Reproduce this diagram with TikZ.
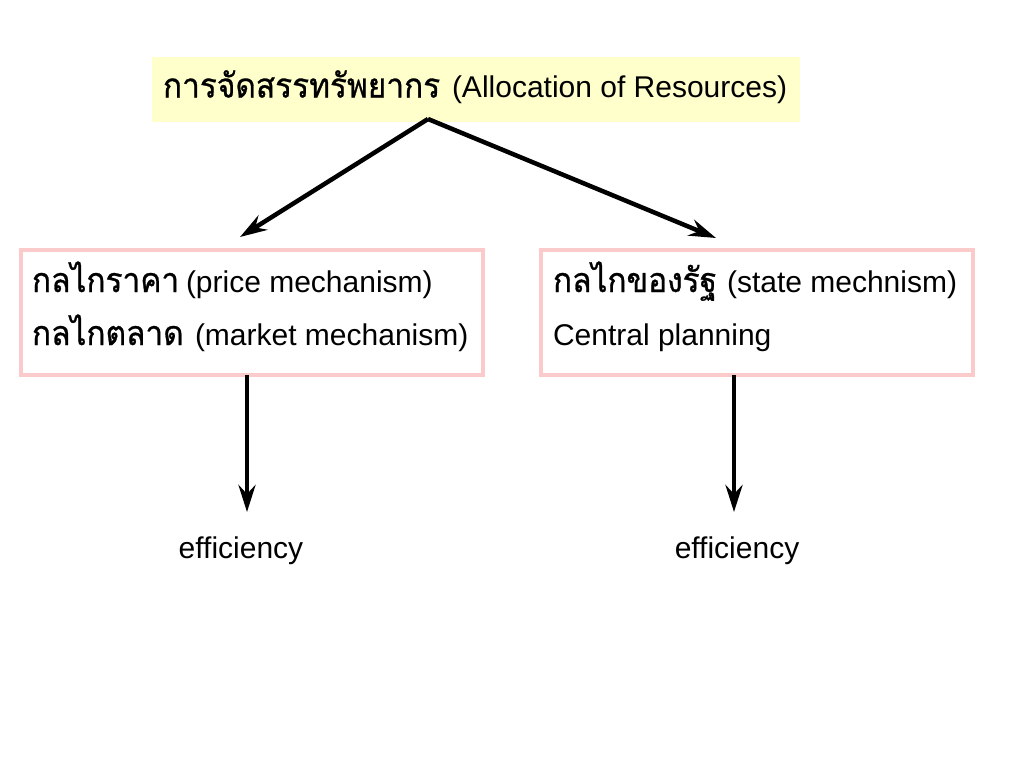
\documentclass[tikz,border=0pt]{standalone}
\usepackage{fontspec}
\setmainfont{Liberation Sans}
\newfontfamily\thaifont[Script=Thai,FakeStretch=0.93,FakeBold=0.8]{Loma}
\usetikzlibrary{arrows.meta}
\definecolor{topfill}{HTML}{FFFFCC}
\definecolor{pinkline}{HTML}{FBCACA}
\begin{document}
\begin{tikzpicture}[x=1pt,y=-1pt,
  every node/.style={inner sep=0pt,outer sep=0pt,font=\fontsize{30}{36}\selectfont},
  topbox/.style={fill=topfill,minimum width=648pt,minimum height=65pt},
  mechbox/.style={draw=pinkline,line width=4pt,fill=white,minimum height=125pt},
  txt/.style={anchor=base west},
  th/.style={font=\fontsize{34}{40}\selectfont\thaifont},
  conn/.style={line width=4.5pt,-{Stealth[length=27pt,width=17pt,inset=9pt]}}]
\useasboundingbox (0,0) rectangle (1024,768);
% top box
\node[topbox] (top) at (476,89.5) {};
\node[txt,th] (topth) at (163,97.5) {การจัดสรรทรัพยากร};
\node[txt] (topen) at (452,97.5) {(Allocation of Resources)};
% left box
\node[mechbox,minimum width=462pt] (left) at (252,312.5) {};
\node[txt,th] (l1th) at (32,292) {กลไกราคา};
\node[txt] (l1en) at (186,292) {(price mechanism)};
\node[txt,th] (l2th) at (32,345) {กลไกตลาด};
\node[txt] (l2en) at (195,345) {(market mechanism)};
% right box
\node[mechbox,minimum width=432pt] (right) at (757,312.5) {};
\node[txt,th] (r1th) at (553,292) {กลไกของรัฐ};
\node[txt] (r1en) at (727,292) {(state mechnism)};
\node[txt] (r2en) at (553,345) {Central planning};
% efficiency
\node[anchor=base] (effl) at (241,558) {efficiency};
\node[anchor=base] (effr) at (737,558) {efficiency};
% connectors
\coordinate (apex) at (428,119);
\coordinate (lend) at (240,237);
\coordinate (rend) at (716,238);
\coordinate (ldown) at (247,512);
\coordinate (rdown) at (734,512);
\draw[conn] (apex) -- (lend);
\draw[conn] (apex) -- (rend);
\draw[conn] (left.south -| ldown) -- (ldown);
\draw[conn] (right.south -| rdown) -- (rdown);
\end{tikzpicture}
\end{document}
